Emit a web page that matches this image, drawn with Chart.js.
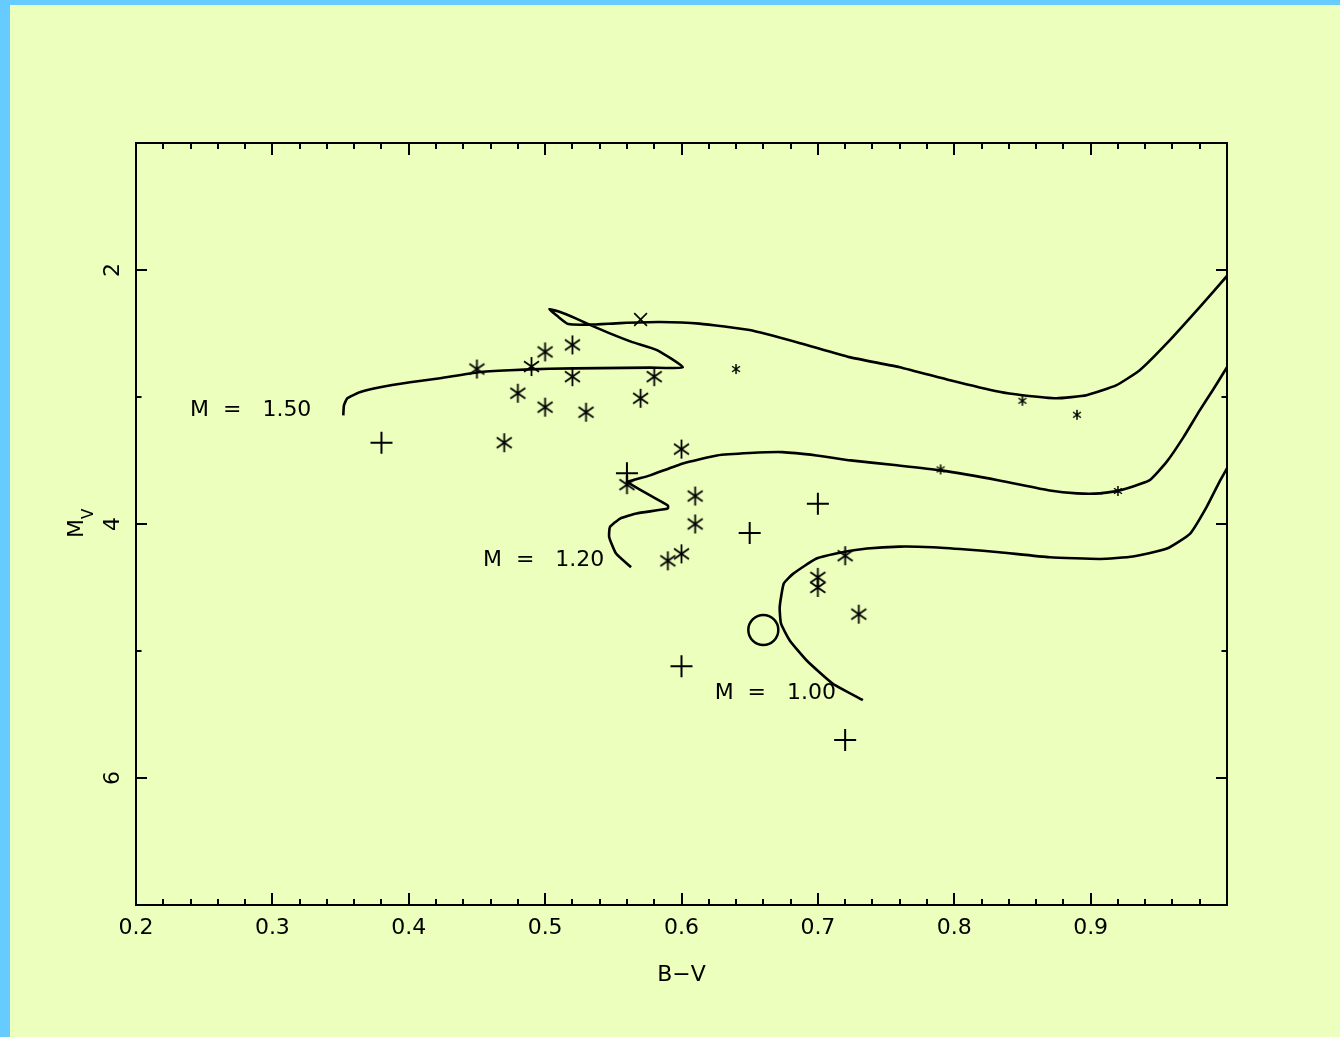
<!DOCTYPE html>
<html>
<head>
<meta charset="utf-8">
<title>HR diagram - B-V vs Mv</title>
<script src="https://cdn.jsdelivr.net/npm/chart.js"></script>
<style>
  html, body { margin: 0; padding: 0; background: #66ccff; }
  #hr { position: absolute; left: 10px; top: 5px; background: #ecffbc; }
</style>
</head>
<body>
<canvas id="hr" width="1330" height="1032"></canvas>
<script>
// evolutionary tracks (B-V, Mv)
const track150X = [0.352, 0.3525, 0.355, 0.364, 0.379, 0.401, 0.423, 0.451, 0.474, 0.503, 0.540, 0.577, 0.601,
  0.582, 0.564, 0.547, 0.535, 0.522, 0.511, 0.503, 0.509, 0.517, 0.533, 0.555, 0.584, 0.613, 0.650, 0.687,
  0.723, 0.760, 0.797, 0.833, 0.850, 0.875, 0.897, 0.919, 0.936, 0.956, 0.980, 1.0];
const track150Y = [3.144, 3.065, 3.010, 2.963, 2.923, 2.884, 2.852, 2.805, 2.789, 2.777, 2.773, 2.769, 2.765,
  2.631, 2.568, 2.497, 2.442, 2.379, 2.331, 2.308, 2.363, 2.426, 2.430, 2.418, 2.410, 2.422, 2.473, 2.576,
  2.686, 2.765, 2.868, 2.959, 2.986, 3.010, 2.986, 2.907, 2.789, 2.576, 2.292, 2.047];

const track120X = [0.563, 0.552, 0.547, 0.5475, 0.555, 0.567, 0.590, 0.590, 0.577, 0.562, 0.560, 0.577, 0.601,
  0.626, 0.650, 0.674, 0.699, 0.724, 0.758, 0.790, 0.833, 0.870, 0.890, 0.907, 0.921, 0.943, 0.956, 0.968,
  0.980, 0.990, 1.0];
const track120Y = [4.341, 4.233, 4.104, 4.025, 3.957, 3.917, 3.878, 3.854, 3.775, 3.683, 3.670, 3.617, 3.523,
  3.460, 3.441, 3.434, 3.460, 3.499, 3.538, 3.578, 3.657, 3.736, 3.759, 3.759, 3.736, 3.657, 3.507, 3.318,
  3.105, 2.939, 2.765];

const track100X = [0.733, 0.711, 0.692, 0.6795, 0.673, 0.672, 0.675, 0.682, 0.699, 0.718, 0.736, 0.760, 0.784,
  0.809, 0.833, 0.870, 0.907, 0.931, 0.956, 0.973, 0.985, 0.995, 1.0];
const track100Y = [5.387, 5.258, 5.077, 4.919, 4.785, 4.656, 4.469, 4.391, 4.272, 4.223, 4.193, 4.178, 4.183,
  4.201, 4.222, 4.262, 4.275, 4.256, 4.193, 4.075, 3.867, 3.657, 3.562];

// track labels
const trackLabels = ['M  =   1.50', 'M  =   1.20', 'M  =   1.00'];
const trackLabelX = [0.2396, 0.4544, 0.6243];
const trackLabelY = [3.108, 4.288, 5.333];

// stars
const bigStarX = [0.45, 0.49, 0.50, 0.52, 0.52, 0.48, 0.50, 0.53, 0.57, 0.58, 0.47, 0.60, 0.61, 0.61, 0.59, 0.60, 0.56, 0.70, 0.70, 0.72, 0.73];
const bigStarY = [2.78, 2.76, 2.645, 2.59, 2.84, 2.97, 3.08, 3.12, 3.01, 2.84, 3.36, 3.41, 3.78, 4.00, 4.29, 4.235, 3.69, 4.42, 4.50, 4.25, 4.71];

const smallStarX = [0.64, 0.79, 0.85, 0.89, 0.92];
const smallStarY = [2.78, 3.57, 3.03, 3.14, 3.74];

const crossX = [0.57];
const crossY = [2.39];

const plusX = [0.38, 0.56, 0.70, 0.65, 0.60, 0.72];
const plusY = [3.36, 3.60, 3.84, 4.07, 5.12, 5.70];

const sunX = [0.66];
const sunY = [4.835];

// axis ticks
const xTickValues = [0.2, 0.3, 0.4, 0.5, 0.6, 0.7, 0.8, 0.9];
const xTickLabels = ['0.2', '0.3', '0.4', '0.5', '0.6', '0.7', '0.8', '0.9'];
const yTickValues = [2, 4, 6];
const yTickLabels = ['2', '4', '6'];

const pts = (xs, ys) => xs.map((v, i) => ({ x: v, y: ys[i] }));

function makeAsterisk(h, lw) {
  const c = document.createElement('canvas');
  const s = Math.ceil(2 * h + 4);
  c.width = s; c.height = s;
  const g = c.getContext('2d');
  const m = s / 2;
  g.strokeStyle = '#000';
  g.lineWidth = lw;
  g.beginPath();
  g.moveTo(m, m - h); g.lineTo(m, m + h);
  const dx = h * 0.79, dy = h * 0.55;
  g.moveTo(m - dx, m - dy); g.lineTo(m + dx, m + dy);
  g.moveTo(m + dx, m - dy); g.lineTo(m - dx, m + dy);
  g.stroke();
  return c;
}

const bigAsterisk = makeAsterisk(9.5, 1.8);
const smallAsterisk = makeAsterisk(5, 1.5);

const FONT = '"DejaVu Sans", "Liberation Sans", sans-serif';

// frame, inward ticks and all the axis text
const frame = {
  id: 'frame',
  afterDatasetsDraw(chart) {
    const { ctx, chartArea: a, scales: { x, y } } = chart;
    ctx.save();
    ctx.strokeStyle = '#000';
    ctx.lineWidth = 2;
    ctx.strokeRect(a.left, a.top, a.right - a.left, a.bottom - a.top);

    ctx.beginPath();
    for (let i = 0; i <= 40; i++) {
      const px = Math.round(x.getPixelForValue(0.2 + i * 0.02));
      const len = i % 5 === 0 ? 12 : 6;
      ctx.moveTo(px, a.bottom); ctx.lineTo(px, a.bottom - len);
      ctx.moveTo(px, a.top); ctx.lineTo(px, a.top + len);
    }
    for (let v = 1; v <= 7; v++) {
      const py = Math.round(y.getPixelForValue(v));
      const len = v % 2 === 0 ? 11 : 5.5;
      ctx.moveTo(a.left, py); ctx.lineTo(a.left + len, py);
      ctx.moveTo(a.right, py); ctx.lineTo(a.right - len, py);
    }
    ctx.stroke();

    ctx.fillStyle = '#000';
    ctx.font = '22px ' + FONT;
    ctx.textAlign = 'center';
    ctx.textBaseline = 'middle';
    xTickValues.forEach((v, i) => {
      ctx.fillText(xTickLabels[i], x.getPixelForValue(v), a.bottom + 23);
    });
    yTickValues.forEach((v, i) => {
      ctx.save();
      ctx.translate(a.left - 23, y.getPixelForValue(v));
      ctx.rotate(-Math.PI / 2);
      ctx.fillText(yTickLabels[i], 0, 0);
      ctx.restore();
    });

    // x title
    ctx.fillText('B\u2212V', (a.left + a.right) / 2, a.bottom + 70);

    // y title M_V
    ctx.save();
    ctx.translate(a.left - 53, (a.top + a.bottom) / 2);
    ctx.rotate(-Math.PI / 2);
    ctx.textAlign = 'left';
    ctx.textBaseline = 'alphabetic';
    ctx.font = '22px ' + FONT;
    ctx.fillText('M', -14, 0);
    ctx.font = '15px ' + FONT;
    ctx.fillText('V', 5, 10);
    ctx.restore();

    // track labels
    ctx.font = '22px ' + FONT;
    ctx.textAlign = 'left';
    ctx.textBaseline = 'middle';
    trackLabels.forEach((t, i) => {
      ctx.fillText(t, x.getPixelForValue(trackLabelX[i]), y.getPixelForValue(trackLabelY[i]));
    });
    ctx.restore();
  }
};

const lineStyle = {
  showLine: true,
  pointRadius: 0,
  borderColor: '#000',
  borderWidth: 2.6,
  tension: 0.15,
  fill: false
};

new Chart(document.getElementById('hr'), {
  type: 'scatter',
  data: {
    datasets: [
      { label: 'big', data: pts(bigStarX, bigStarY), pointStyle: bigAsterisk, pointRadius: 5 },
      { label: 'small', data: pts(smallStarX, smallStarY), pointStyle: smallAsterisk, pointRadius: 5 },
      { label: 'cross', data: pts(crossX, crossY), pointStyle: 'crossRot', pointRadius: 9,
        borderColor: '#000', borderWidth: 1.6 },
      { label: 'plus', data: pts(plusX, plusY), pointStyle: 'cross', pointRadius: 11,
        borderColor: '#000', borderWidth: 2 },
      { label: 'sun', data: pts(sunX, sunY), pointStyle: 'circle', pointRadius: 15,
        borderColor: '#000', borderWidth: 2.5, backgroundColor: 'rgba(0,0,0,0)' },
      { label: 'M=1.50', data: pts(track150X, track150Y), ...lineStyle },
      { label: 'M=1.20', data: pts(track120X, track120Y), ...lineStyle },
      { label: 'M=1.00', data: pts(track100X, track100Y), ...lineStyle }
    ]
  },
  options: {
    responsive: false,
    animation: false,
    events: [],
    layout: { padding: { left: 126, right: 113, top: 138, bottom: 132 } },
    scales: {
      x: { type: 'linear', min: 0.2, max: 1.0, display: false },
      y: { type: 'linear', min: 1, max: 7, reverse: true, display: false }
    },
    plugins: {
      legend: { display: false },
      tooltip: { enabled: false }
    }
  },
  plugins: [frame]
});
</script>
</body>
</html>
